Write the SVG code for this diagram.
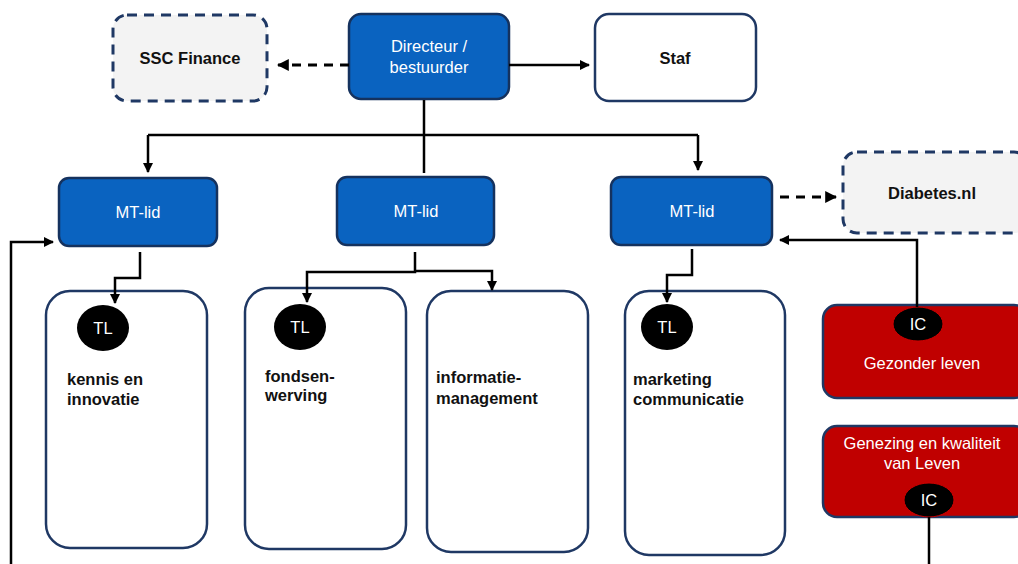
<svg xmlns="http://www.w3.org/2000/svg" width="1018" height="564" viewBox="0 0 1018 564">
<style>
.blue{fill:#0a63c0;stroke:#15325e;stroke-width:2.5}
.dash{fill:#f3f3f3;stroke:#1f3864;stroke-width:3;stroke-dasharray:10 7}
.white{fill:#fff;stroke:#1f3864;stroke-width:2.5}
.red{fill:#c00000;stroke:#1f3864;stroke-width:2.5}
.oval{fill:#000;stroke:#cc0000;stroke-width:1}
.tl{fill:#000}
.wt{font-family:"Liberation Sans",Arial,sans-serif;font-size:16.5px;fill:#fff;text-anchor:middle}
.bt{font-family:"Liberation Sans",Arial,sans-serif;font-size:16.5px;font-weight:bold;fill:#111}
.ct{text-anchor:middle}
.ln{fill:none;stroke:#000;stroke-width:2.5}
.dl{fill:none;stroke:#000;stroke-width:3;stroke-dasharray:9 7}
</style>
<defs>
<marker id="ah" viewBox="0 0 10 10" refX="9" refY="5" markerWidth="4" markerHeight="4" orient="auto" markerUnits="strokeWidth">
<path d="M0,0 L10,5 L0,10 z" fill="#000"/>
</marker>
</defs>
<g id="ssc"><rect class="dash" x="113" y="15" width="154" height="86" rx="14"/><text class="bt ct" x="190" y="64" font-size="15">SSC Finance</text></g>
<g id="directeur"><rect class="blue" x="349" y="14" width="160" height="85" rx="12"/><text class="wt" x="429" y="52">Directeur /</text><text class="wt" x="429" y="73">bestuurder</text></g>
<g id="staf"><rect class="white" x="595" y="14" width="161" height="87" rx="14"/><text class="bt ct" x="675" y="64" font-size="15">Staf</text></g>
<g id="mt1"><rect class="blue" x="59" y="178" width="158" height="68" rx="10"/><text class="wt" x="138" y="218">MT-lid</text></g>
<g id="mt2"><rect class="blue" x="337" y="177" width="157" height="68" rx="10"/><text class="wt" x="416" y="217">MT-lid</text></g>
<g id="mt3"><rect class="blue" x="611" y="177" width="161" height="68" rx="10"/><text class="wt" x="692" y="217">MT-lid</text></g>
<g id="diabetes"><rect class="dash" x="843" y="152" width="185" height="81" rx="14"/><text class="bt ct" x="932" y="199" font-size="16">Diabetes.nl</text></g>
<g id="kennis"><rect class="white" x="46" y="291" width="161" height="257" rx="24"/><ellipse class="tl" cx="103" cy="328" rx="26" ry="23"/><text class="wt" x="103" y="334">TL</text><text class="bt" x="67" y="385">kennis en</text><text class="bt" x="67" y="405">innovatie</text></g>
<g id="fondsen"><rect class="white" x="245" y="288" width="161" height="261" rx="24"/><ellipse class="tl" cx="300" cy="327" rx="26" ry="23"/><text class="wt" x="300" y="333">TL</text><text class="bt" x="265" y="382">fondsen-</text><text class="bt" x="265" y="401">werving</text></g>
<g id="informatie"><rect class="white" x="427" y="291" width="161" height="261" rx="24"/><text class="bt" x="436" y="383">informatie-</text><text class="bt" x="436" y="404">management</text></g>
<g id="marketing"><rect class="white" x="625" y="291" width="160" height="264" rx="24"/><ellipse class="tl" cx="667" cy="327" rx="26" ry="23"/><text class="wt" x="667" y="333">TL</text><text class="bt" x="633" y="385">marketing</text><text class="bt" x="633" y="405">communicatie</text></g>
<g id="gezonder"><rect class="red" x="823" y="305" width="205" height="93" rx="14"/><ellipse class="oval" cx="918" cy="324" rx="25" ry="17"/><text class="wt" x="918" y="330">IC</text><text class="wt" x="922" y="369" font-size="17">Gezonder leven</text></g>
<g id="genezing"><rect class="red" x="823" y="426" width="205" height="91" rx="14"/><text class="wt" x="922" y="449" font-size="17">Genezing en kwaliteit</text><text class="wt" x="922" y="469" font-size="17">van Leven</text><ellipse class="oval" cx="929" cy="500" rx="25" ry="17"/><text class="wt" x="929" y="506">IC</text></g>
<g id="connectors">
<path class="dl" d="M349,65 H278" marker-end="url(#ah)"/>
<path class="ln" d="M509,65 H589" marker-end="url(#ah)"/>
<path class="ln" d="M424,100 V173"/>
<path class="ln" d="M148,135 H698"/>
<path class="ln" d="M148,135 V172" marker-end="url(#ah)"/>
<path class="ln" d="M698,135 V170" marker-end="url(#ah)"/>
<path class="dl" d="M780,197 H836" marker-end="url(#ah)"/>
<path class="ln" d="M140,252 V278 H115 V303" marker-end="url(#ah)"/>
<path class="ln" d="M415,252 V272 H307 V302" marker-end="url(#ah)"/>
<path class="ln" d="M415,271 H492 V290" marker-end="url(#ah)"/>
<path class="ln" d="M692,249 V275 H667 V302" marker-end="url(#ah)"/>
<path class="ln" d="M917,307 V240 H780" marker-end="url(#ah)"/>
<path class="ln" d="M11,564 V242 H53" marker-end="url(#ah)"/>
<path class="ln" d="M929,517 V564"/>
</g>
</svg>
